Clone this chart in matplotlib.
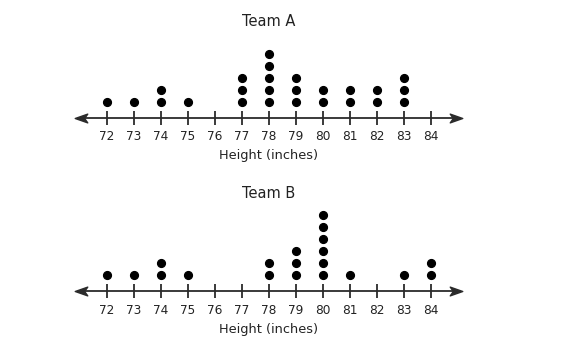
import matplotlib
matplotlib.use("Agg")
import matplotlib.pyplot as plt
from matplotlib.path import Path
import numpy as np

heights = [72, 73, 74, 75, 76, 77, 78, 79, 80, 81, 82, 83, 84]
tick_labels = [str(h) for h in heights]
team_a_counts = [1, 1, 2, 1, 0, 3, 5, 3, 2, 2, 2, 3, 0]
team_b_counts = [1, 1, 2, 1, 0, 0, 2, 3, 6, 1, 0, 1, 2]
titles = ["Team A", "Team B"]
xlabel = "Height (inches)"

W, H, DPI = 570, 349, 100
plt.rcParams['font.family'] = ['DejaVu Sans']
fig = plt.figure(figsize=(W / DPI, H / DPI), dpi=DPI)
fig.patch.set_facecolor('white')

# x mapping: 72 -> 106.7 px, 27 px per unit
px_per_unit = 27.0
x0 = 72 - 106.7 / px_per_unit
x1 = x0 + W / px_per_unit

line_color = '#2b2b2b'

# arrowhead marker (pointing right)
arrow_right = Path([(1, 0), (-1, 0.7), (-0.5, 0), (-1, -0.7), (1, 0)],
                   [Path.MOVETO, Path.LINETO, Path.LINETO, Path.LINETO, Path.CLOSEPOLY])
arrow_left = Path([(-1, 0), (1, 0.7), (0.5, 0), (1, -0.7), (-1, 0)],
                  [Path.MOVETO, Path.LINETO, Path.LINETO, Path.LINETO, Path.CLOSEPOLY])
arrow_px = 12.5

# panel layout: (top px, bottom px, axis px, dot spacing px, title px, xlabel px)
panels = [(0, 175, 117.7, 11.9, 21, 156), (175, 349, 291.0, 12.0, 194, 329)]
first_dot_offset = 1.35  # in dot units above axis
left_tip = 72 - 31.7 / px_per_unit
right_tip = 72 + 356.0 / px_per_unit
half = (arrow_px / 2) / px_per_unit

for counts, title, (top, bot, axy, sp, ty, ly) in zip([team_a_counts, team_b_counts], titles, panels):
    ax = fig.add_axes([0, 1 - bot / H, 1, (bot - top) / H])
    ax.set_xlim(x0, x1)
    ax.set_ylim(-(bot - axy) / sp, (axy - top) / sp)
    ax.patch.set_alpha(0)
    for s in ['top', 'right', 'left']:
        ax.spines[s].set_visible(False)
    ax.spines['bottom'].set_position(('data', 0))
    ax.spines['bottom'].set_bounds(left_tip + half, right_tip - half)
    ax.spines['bottom'].set_color(line_color)
    ax.spines['bottom'].set_linewidth(1.3)
    ax.set_yticks([])
    ax.set_xticks(heights)
    ax.set_xticklabels(tick_labels)
    ax.tick_params(axis='x', direction='inout', length=10, width=1.3,
                   color=line_color, labelsize=8.7, pad=4.0, labelcolor='#222222')
    ax.plot([right_tip - half], [0], marker=arrow_right, markersize=arrow_px * 72 / DPI,
            color=line_color, linestyle='none', clip_on=False)
    ax.plot([left_tip + half], [0], marker=arrow_left, markersize=arrow_px * 72 / DPI,
            color=line_color, linestyle='none', clip_on=False)
    xs, ys = [], []
    for h, c in zip(heights, counts):
        for i in range(c):
            xs.append(h)
            ys.append(first_dot_offset + i)
    ax.plot(xs, ys, 'o', color='black', markersize=5.6, linestyle='none')
    ax.text(78, (axy - ty) / sp, title, ha='center', va='center',
            fontsize=10.5, color='#222222')
    ax.text(78, (axy - ly) / sp, xlabel, ha='center', va='center',
            fontsize=9.3, color='#222222')

fig.savefig('out.png', dpi=DPI, facecolor='white')
